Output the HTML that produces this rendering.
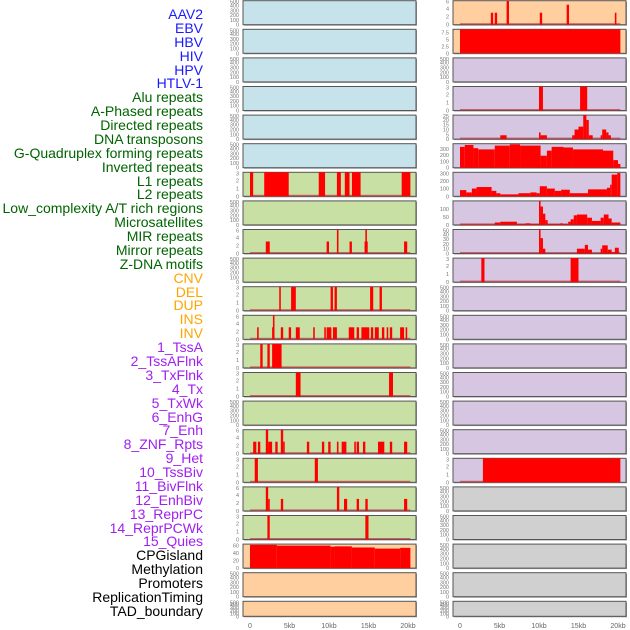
<!DOCTYPE html>
<html><head><meta charset="utf-8"><style>
body{margin:0;background:#fff;width:630px;height:630px;overflow:hidden;font-family:"Liberation Sans",sans-serif}
#labels div{position:absolute;right:427px;font-size:14px;line-height:14px;white-space:nowrap}
</style></head><body>
<div id="labels"></div>
<svg id="chart" width="630" height="630" style="position:absolute;left:0;top:0"></svg>
<script>
const featureNames = ["AAV2","EBV","HBV","HIV","HPV","HTLV-1","Alu repeats","A-Phased repeats","Directed repeats","DNA transposons","G-Quadruplex forming repeats","Inverted repeats","L1 repeats","L2 repeats","Low_complexity A/T rich regions","Microsatellites","MIR repeats","Mirror repeats","Z-DNA motifs","CNV","DEL","DUP","INS","INV","1_TssA","2_TssAFlnk","3_TxFlnk","4_Tx","5_TxWk","6_EnhG","7_Enh","8_ZNF_Rpts","9_Het","10_TssBiv","11_BivFlnk","12_EnhBiv","13_ReprPC","14_ReprPCWk","15_Quies","CPGisland","Methylation","Promoters","ReplicationTiming","TAD_boundary"];
const featureColors = ["#1a1aff","#1a1aff","#1a1aff","#1a1aff","#1a1aff","#1a1aff","#006400","#006400","#006400","#006400","#006400","#006400","#006400","#006400","#006400","#006400","#006400","#006400","#006400","#ffa500","#ffa500","#ffa500","#ffa500","#ffa500","#a020f0","#a020f0","#a020f0","#a020f0","#a020f0","#a020f0","#a020f0","#a020f0","#a020f0","#a020f0","#a020f0","#a020f0","#a020f0","#a020f0","#a020f0","#000","#000","#000","#000","#000"];
const xTicks = [0,5,10,15,20];
const xTickLabels = ["0","5kb","10kb","15kb","20kb"];
const T500 = [0,100,200,300,400,500];
// segments: [startKb, endKb, value]
const L7 = [[0,0.4,3],[1.8,4.9,3],[8.7,9.5,3],[11.0,11.5,3],[12.0,12.6,3],[12.9,14.0,3],[19.2,20.3,3]];
const L9 = [[2.0,2.5,3],[9.7,10.0,3],[11.0,11.2,6],[12.6,12.9,3],[14.5,14.9,3],[14.6,14.8,6],[19.5,19.9,3]];
const L11 = [[3.7,3.9,3],[5.2,5.8,3],[10.2,10.5,3],[10.7,11.0,3],[15.2,15.6,3],[16.4,16.7,3]];
const L12 = [[0.9,1.1,3],[2.8,3.1,3],[2.9,3.1,6],[3.9,4.2,3],[4.9,5.2,3],[5.8,6.3,3],[8.0,8.2,3],[9.4,9.6,3],[9.7,10.3,3],[10.5,11.0,3],[12.5,13.2,3],[13.5,13.8,3],[14.1,15.1,3],[15.3,15.6,3],[15.8,16.3,3],[16.7,17.0,3],[17.3,17.5,3],[17.7,18.0,3],[19.0,19.5,3],[19.7,19.9,3]];
const L13 = [[1.3,1.6,3],[2.2,2.5,3],[2.8,4.0,3]];
const L14 = [[5.8,6.4,3],[17.6,18.1,3]];
const L16 = [[0.4,0.8,3],[1.0,1.3,3],[2.0,2.3,6],[2.3,2.8,3],[3.2,3.5,3],[3.9,4.2,6],[4.2,4.4,3],[7.2,7.5,3],[9.1,9.4,3],[9.9,10.2,3],[11.0,11.2,3],[11.6,12.2,3],[13.2,13.4,3],[13.5,13.8,3],[14.3,14.6,3],[16.2,17.0,3],[17.7,18.0,3],[19.5,19.9,3]];
const L17 = [[0.6,1.0,3],[8.2,8.6,3]];
const L18 = [[2.0,2.3,6],[2.3,2.5,3],[3.9,4.2,3],[11.0,11.3,6],[11.9,12.3,3],[13.5,13.8,3],[14.6,14.9,3],[19.5,19.9,3]];
const L19 = [[2.2,2.5,3],[14.6,15.0,3]];
const L20 = [[0,3.4,62],[3.4,10.2,60],[10.2,10.7,57],[10.7,12.9,58],[12.9,15.8,55],[15.8,19.0,52],[19.0,20.3,54]];
const R1 = [[3.9,4.2,3],[4.4,4.7,3],[5.9,6.2,6],[10.1,10.4,3],[13.5,13.8,5],[19.6,19.8,3]];
const R2 = [[0,20.3,8.7]];
const R4 = [[10.0,10.5,3],[15.2,16.1,3]];
const R5 = [[5.1,5.9,4],[10.0,10.2,7],[10.2,11.0,4],[14.2,14.5,4],[14.5,15.0,10],[15.0,15.6,13],[15.6,16.0,25],[16.0,16.3,20],[16.3,16.8,4],[17.8,18.0,4],[18.0,18.5,10],[18.5,18.8,7],[18.8,19.1,4]];
const R6 = [[0,0.6,330],[0.6,1.7,360],[1.7,2.3,310],[2.3,4.4,290],[4.4,6.3,350],[6.3,7.6,370],[7.6,10.2,350],[10.2,11.0,190],[11.0,11.6,270],[11.6,13.1,330],[13.1,14.3,320],[14.3,18.1,290],[18.1,19.4,270],[19.4,20.0,120],[20.0,20.3,60]];
const R7 = [[0,0.8,80],[0.8,1.5,50],[1.5,2.1,100],[2.1,4.0,120],[4.0,4.6,70],[4.6,5.1,40],[5.1,7.4,25],[7.4,8.9,40],[8.9,9.7,50],[9.7,10.1,40],[10.1,11.0,130],[11.0,12.0,100],[12.0,12.8,70],[12.8,13.9,85],[13.9,16.2,40],[16.2,18.6,90],[18.6,19.0,110],[19.0,19.2,150],[19.2,19.9,280],[19.9,20.3,300]];
const R8 = [[0,4.4,3],[4.4,5.1,15],[5.1,7.2,20],[7.2,8.3,5],[8.3,8.9,10],[8.9,10.0,5],[10.0,10.2,150],[10.2,10.5,115],[10.5,10.8,70],[10.8,11.1,30],[11.1,12.7,5],[12.7,13.0,10],[13.0,13.7,5],[13.7,14.0,20],[14.0,14.4,35],[14.4,14.8,60],[14.8,16.1,65],[16.1,16.7,45],[16.7,17.8,25],[17.8,18.2,45],[18.2,18.8,65],[18.8,19.2,40],[19.2,20.3,15]];
const R9 = [[10.0,10.2,50],[10.2,10.5,32],[10.5,10.8,10],[14.8,15.8,10],[15.8,16.2,18],[16.2,16.7,8],[17.8,18.0,10],[18.0,18.7,17],[18.7,19.2,8],[19.2,19.6,3],[19.6,20.1,12]];
const R10 = [[2.7,3.1,3],[14.0,15.0,3]];
const R17 = [[2.9,20.3,3]];

const BLUE="#c6e3eb",GREEN="#c8e0a4",ORANGE="#ffcf9f",PURPLE="#d6c6e2",GRAY="#d0d0d0";
const leftPanels = [
 [BLUE,500,T500,[]],[BLUE,500,T500,[]],[BLUE,500,T500,[]],[BLUE,500,T500,[]],[BLUE,500,T500,[]],[BLUE,500,T500,[]],
 [GREEN,3,[0,1,2,3],L7],[GREEN,500,T500,[]],[GREEN,6,[0,2,4,6],L9],[GREEN,500,T500,[]],[GREEN,3,[0,1,2,3],L11],
 [GREEN,6,[0,2,4,6],L12],[GREEN,3,[0,1,2,3],L13],[GREEN,3,[0,1,2,3],L14],[GREEN,500,T500,[]],[GREEN,6,[0,2,4,6],L16],
 [GREEN,3,[0,1,2,3],L17],[GREEN,6,[0,2,4,6],L18],[GREEN,3,[0,1,2,3],L19],
 [ORANGE,64,[0,20,40,60],L20],[ORANGE,500,T500,[]],[ORANGE,500,T500,[]]];
const rightPanels = [
 [ORANGE,6,[0,2,4,6],R1],[ORANGE,8.7,[0,2.5,5,7.5],R2],[PURPLE,500,T500,[]],[PURPLE,3,[0,1,2,3],R4],[PURPLE,25,[0,5,10,15,20,25],R5],
 [PURPLE,380,[0,100,200,300],R6],[PURPLE,310,[0,100,200,300],R7],[PURPLE,150,[0,50,100],R8],[PURPLE,50,[0,10,20,30,40,50],R9],
 [PURPLE,3,[0,1,2,3],R10],[PURPLE,500,T500,[]],[PURPLE,500,T500,[]],[PURPLE,500,T500,[]],[PURPLE,500,T500,[]],[PURPLE,500,T500,[]],
 [PURPLE,500,T500,[]],[PURPLE,3,[0,1,2,3],R17],[GRAY,500,T500,[]],[GRAY,500,T500,[]],[GRAY,500,T500,[]],[GRAY,500,T500,[]],[GRAY,500,T500,[]]];

const NS="http://www.w3.org/2000/svg";
const svg=document.getElementById('chart');
function mk(tag,attrs,parent){const e=document.createElementNS(NS,tag);for(const k in attrs)e.setAttribute(k,attrs[k]);(parent||svg).appendChild(e);return e;}
const labels=document.getElementById('labels');
featureNames.forEach((n,i)=>{const d=document.createElement('div');d.textContent=n;d.style.top=(7+i*13.88)+'px';d.style.color=featureColors[i];


labels.appendChild(d);});

function drawCol(panels,px,zeroX,col){
 const W=173,kb=7.9;
 const xs=v=>zeroX+v*kb;
 panels.forEach((p,i)=>{
  const top=0.7+i*28.6, h=(i===21)?15:24;
  const bottom=top+h;
  const ys=v=>bottom-v/p[1]*h;
  const g=mk('g',{});
  
  
  mk('rect',{x:px+1,y:top+1,width:W,height:h,fill:'#999'},g);
  mk('rect',{x:px,y:top,width:W,height:h,fill:p[0],stroke:'#555','stroke-width':1},g);
  p[2].forEach(t=>{const tx=mk('text',{x:px-4,y:Math.max(ys(t)+2,top+3),'font-size':5.5,fill:'#777','text-anchor':'end'},g);tx.textContent=t;
   
   });
  if(p[3].length){
   mk('rect',{x:xs(0),y:bottom-1.5,width:xs(20.3)-xs(0),height:1.5,fill:'#c0303a',opacity:0.7},g);
   p[3].forEach(s=>{const r=mk('rect',{x:xs(s[0]),y:ys(s[2]),width:Math.max(xs(s[1])-xs(s[0]),1.2),height:bottom-ys(s[2]),fill:'#ff0000'},g);
    
    });
  }
 });
 xTicks.forEach((t,i)=>{const tx=mk('text',{x:xs(t),y:628,'font-size':7,fill:'#666','text-anchor':'middle'});tx.textContent=xTickLabels[i];
  
  });
}
drawCol(leftPanels,243,250,'left');
drawCol(rightPanels,453,460,'right');
</script>
</body></html>
